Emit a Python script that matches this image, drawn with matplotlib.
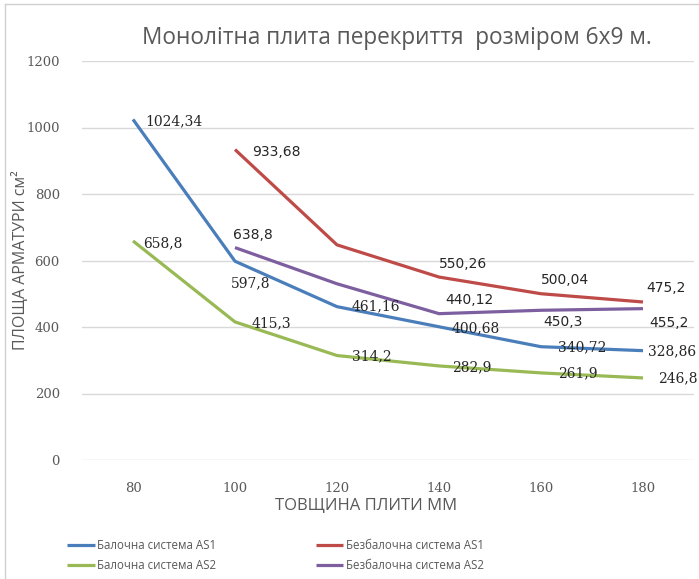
import matplotlib.pyplot as plt
import numpy as np

# товщина плити, мм
tovshchyna = ['80', '100', '120', '140', '160', '180']

# площа арматури, см2 (None - немає значення)
balka_as1 = [1024.34, 597.8, 461.16, 400.68, 340.72, 328.86]
bezbalka_as1 = [None, 933.68, 647.0, 550.26, 500.04, 475.2]
balka_as2 = [658.8, 415.3, 314.2, 282.9, 261.9, 246.8]
bezbalka_as2 = [None, 638.8, 530.0, 440.12, 450.3, 455.2]

# зсув підписів від точок у пікселях
pidpysy_balka_as1 = [(12, -2), (-4, -22), (15, 0), (13, -2), (17, -1), (5, -1)]
pidpysy_bezbalka_as1 = [None, (17, -2), None, (0, 13), (0, 14), (3, 14)]
pidpysy_balka_as2 = [(10, -2), (17, -1), (15, -1), (13, -1), (17, 0), (15, 0)]
pidpysy_bezbalka_as2 = [None, (-2, 13), None, (6, 14), (2, -12), (6, -14)]

syniy = '#4a7ebb'
chervonyi = '#be4b48'
zelenyi = '#98b954'
fioletovyi = '#7d5fa0'
siryi = '#595959'

fig = plt.figure(figsize=(6.99, 5.79), dpi=100)
ax = fig.add_axes([82 / 699, 1 - 460 / 579, 612 / 699, 399 / 579])

x = np.arange(len(tovshchyna))


def seriya(znach, kolir, nazva, zsuvy, shryft):
    xs = [i for i, v in enumerate(znach) if v is not None]
    ys = [v for v in znach if v is not None]
    liniya, = ax.plot(xs, ys, color=kolir, linewidth=2.3, label=nazva,
                      solid_capstyle='butt', solid_joinstyle='round')
    for i, v in enumerate(znach):
        if v is None or zsuvy[i] is None:
            continue
        tekst = ('%g' % v).replace('.', ',')
        ax.annotate(tekst, (i, v), xytext=zsuvy[i], textcoords='offset pixels',
                    ha='left', va='center', fontsize=10, color='#262626',
                    family=shryft)
    return liniya


l1 = seriya(balka_as1, syniy, 'Балочна система AS1', pidpysy_balka_as1, 'DejaVu Serif')
l2 = seriya(bezbalka_as1, chervonyi, 'Безбалочна система AS1', pidpysy_bezbalka_as1, 'DejaVu Sans')
l3 = seriya(balka_as2, zelenyi, 'Балочна система AS2', pidpysy_balka_as2, 'DejaVu Serif')
l4 = seriya(bezbalka_as2, fioletovyi, 'Безбалочна система AS2', pidpysy_bezbalka_as2, 'DejaVu Sans')

ax.set_xlim(-0.5, 5.5)
ax.set_ylim(0, 1200)
ax.set_yticks(np.arange(0, 1201, 200))
ax.set_xticks(x)
ax.set_xticklabels(tovshchyna)
ax.tick_params(length=0, labelsize=9.5, labelcolor=siryi, pad=16)
ax.tick_params(axis='y', pad=16)
for t in ax.get_xticklabels() + ax.get_yticklabels():
    t.set_family('DejaVu Serif')
ax.grid(axis='y', color='#d9d9d9', linewidth=1)
ax.set_axisbelow(True)
for s in ax.spines.values():
    s.set_visible(False)

ax.set_xlabel('ТОВЩИНА ПЛИТИ ММ', fontsize=12, color=siryi, family='Open Sans')
ax.set_ylabel('ПЛОЩА АРМАТУРИ см²', fontsize=11.5, color=siryi, family='Open Sans')
ax.xaxis.set_label_coords(0.464, -0.095)
ax.yaxis.set_label_coords(-0.087, 0.5)

fig.text(397 / 699, 1 - 38 / 579, 'Монолітна плита перекриття  розміром 6х9 м.',
         ha='center', va='center', fontsize=16.3, color=siryi, family='Open Sans')

ax.legend([l1, l3, l2, l4],
          ['Балочна система AS1', 'Балочна система AS2',
           'Безбалочна система AS1', 'Безбалочна система AS2'],
          ncol=2, loc='upper left', bbox_to_anchor=(57 / 699, 1 - 529 / 579),
          bbox_transform=fig.transFigure, frameon=False,
          handlelength=2.4, handletextpad=0.2, columnspacing=8.6,
          labelspacing=0.6, prop={'family': 'Open Sans', 'size': 8.3},
          labelcolor=siryi)

# рамка діаграми
fig.add_artist(plt.Line2D([5 / 699, 5 / 699], [0, 1 - 4 / 579], color='#d0d0d0', linewidth=1))
fig.add_artist(plt.Line2D([5 / 699, 1], [1 - 4 / 579, 1 - 4 / 579], color='#d0d0d0', linewidth=1))

fig.savefig('out.png', dpi=100)
